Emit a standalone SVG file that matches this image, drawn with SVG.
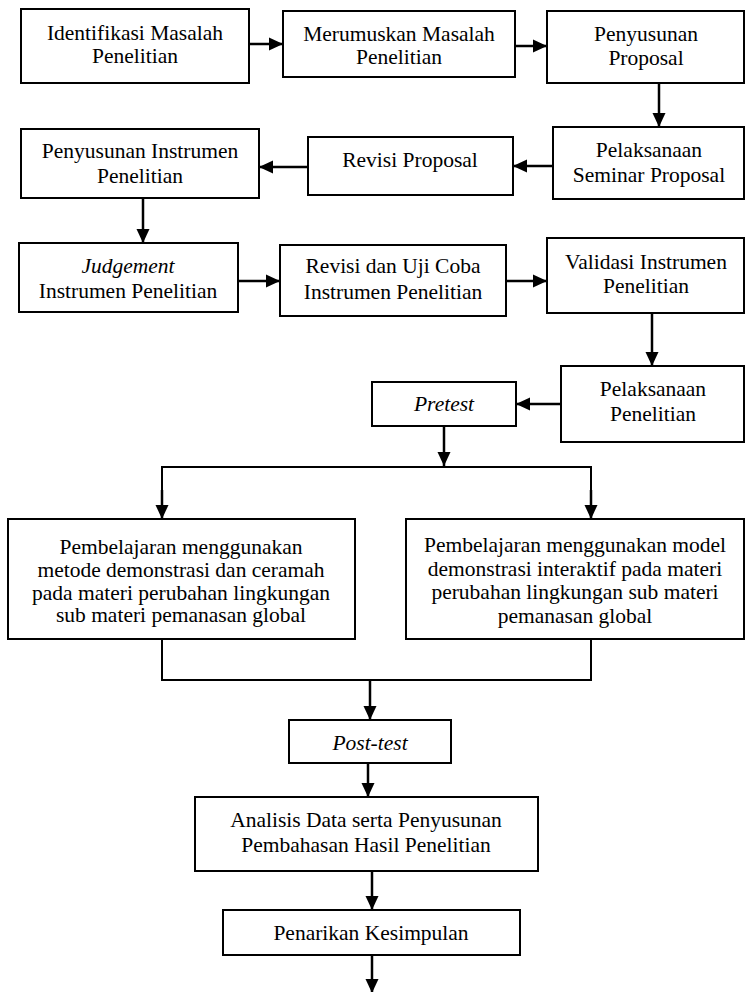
<svg xmlns="http://www.w3.org/2000/svg" width="745" height="992" viewBox="0 0 745 992">
<style>
.box{fill:#fff;stroke:#000;stroke-width:2}
.t{font-family:"Liberation Serif","Times New Roman",serif;font-size:21.5px;fill:#000;text-anchor:middle}
.i{font-style:italic}
.c{fill:none;stroke:#000;stroke-width:2.5}
.l{fill:none;stroke:#000;stroke-width:2}
</style>
<defs>
<marker id="ah" markerUnits="userSpaceOnUse" markerWidth="14" markerHeight="14" refX="14" refY="6.5" orient="auto" viewBox="0 0 14 13">
<path d="M0,0 L14,6.5 L0,13 Z" fill="#000"/>
</marker>
</defs>
<rect x="0" y="0" width="745" height="992" fill="#fff"/>
<g id="connectors">
<line class="c" x1="249" y1="44" x2="283" y2="44" marker-end="url(#ah)"/>
<line class="c" x1="515" y1="46" x2="547" y2="46" marker-end="url(#ah)"/>
<line class="c" x1="659" y1="83" x2="659" y2="127" marker-end="url(#ah)"/>
<line class="c" x1="553" y1="166" x2="513" y2="166" marker-end="url(#ah)"/>
<line class="c" x1="308" y1="167" x2="259" y2="167" marker-end="url(#ah)"/>
<line class="c" x1="143" y1="198" x2="143" y2="243" marker-end="url(#ah)"/>
<line class="c" x1="238" y1="281" x2="280" y2="281" marker-end="url(#ah)"/>
<line class="c" x1="506" y1="281" x2="547" y2="281" marker-end="url(#ah)"/>
<line class="c" x1="652" y1="313" x2="652" y2="366" marker-end="url(#ah)"/>
<line class="c" x1="561" y1="404" x2="516" y2="404" marker-end="url(#ah)"/>
<line class="c" x1="444" y1="426" x2="444" y2="466" marker-end="url(#ah)"/>
<polyline class="l" points="162,519 162,467 591,467 591,519"/>
<line class="c" x1="162" y1="490" x2="162" y2="519" marker-end="url(#ah)"/>
<line class="c" x1="591" y1="490" x2="591" y2="519" marker-end="url(#ah)"/>
<polyline class="l" points="162,639 162,680 591,680 591,639"/>
<line class="c" x1="370" y1="680" x2="370" y2="720" marker-end="url(#ah)"/>
<line class="c" x1="368" y1="763" x2="368" y2="797" marker-end="url(#ah)"/>
<line class="c" x1="372" y1="871" x2="372" y2="910" marker-end="url(#ah)"/>
<line class="c" x1="372" y1="955" x2="372" y2="993" marker-end="url(#ah)"/>
</g>
<g id="n1"><rect class="box" x="21" y="9" width="228" height="74"/>
<text class="t" x="135" y="40">Identifikasi Masalah</text><text class="t" x="135" y="63">Penelitian</text></g>
<g id="n2"><rect class="box" x="283" y="11" width="232" height="66"/>
<text class="t" x="399" y="41">Merumuskan Masalah</text><text class="t" x="399" y="64">Penelitian</text></g>
<g id="n3"><rect class="box" x="547" y="11" width="197" height="72"/>
<text class="t" x="646" y="41">Penyusunan</text><text class="t" x="646" y="65">Proposal</text></g>
<g id="n4"><rect class="box" x="553" y="127" width="191" height="72"/>
<text class="t" x="649" y="157">Pelaksanaan</text><text class="t" x="649" y="182">Seminar Proposal</text></g>
<g id="n5"><rect class="box" x="308" y="137" width="205" height="58"/>
<text class="t" x="410" y="167">Revisi Proposal</text></g>
<g id="n6"><rect class="box" x="21" y="129" width="238" height="69"/>
<text class="t" x="140" y="158">Penyusunan Instrumen</text><text class="t" x="140" y="183">Penelitian</text></g>
<g id="n7"><rect class="box" x="19" y="243" width="219" height="69"/>
<text class="t i" x="128" y="273">Judgement</text><text class="t" x="128" y="298">Instrumen Penelitian</text></g>
<g id="n8"><rect class="box" x="280" y="245" width="226" height="71"/>
<text class="t" x="393" y="273">Revisi dan Uji Coba</text><text class="t" x="393" y="299">Instrumen Penelitian</text></g>
<g id="n9"><rect class="box" x="547" y="238" width="197" height="75"/>
<text class="t" x="646" y="269">Validasi Instrumen</text><text class="t" x="646" y="293">Penelitian</text></g>
<g id="n10"><rect class="box" x="561" y="366" width="183" height="76"/>
<text class="t" x="653" y="396">Pelaksanaan</text><text class="t" x="653" y="421">Penelitian</text></g>
<g id="n11"><rect class="box" x="372" y="382" width="144" height="44"/>
<text class="t i" x="444" y="411">Pretest</text></g>
<g id="n12"><rect class="box" x="8" y="519" width="347" height="120"/>
<text class="t" x="181" y="554">Pembelajaran menggunakan</text>
<text class="t" x="181" y="577">metode demonstrasi dan ceramah</text>
<text class="t" x="181" y="600">pada materi perubahan lingkungan</text>
<text class="t" x="181" y="622">sub materi pemanasan global</text></g>
<g id="n13"><rect class="box" x="406" y="519" width="338" height="120"/>
<text class="t" x="575" y="552">Pembelajaran menggunakan model</text>
<text class="t" x="575" y="576">demonstrasi interaktif pada materi</text>
<text class="t" x="575" y="599">perubahan lingkungan sub materi</text>
<text class="t" x="575" y="623">pemanasan global</text></g>
<g id="n14"><rect class="box" x="289" y="720" width="162" height="43"/>
<text class="t i" x="370" y="750">Post-test</text></g>
<g id="n15"><rect class="box" x="195" y="797" width="343" height="74"/>
<text class="t" x="366" y="827">Analisis Data serta Penyusunan</text><text class="t" x="366" y="852">Pembahasan Hasil Penelitian</text></g>
<g id="n16"><rect class="box" x="223" y="910" width="297" height="45"/>
<text class="t" x="371" y="940">Penarikan Kesimpulan</text></g>
</svg>
